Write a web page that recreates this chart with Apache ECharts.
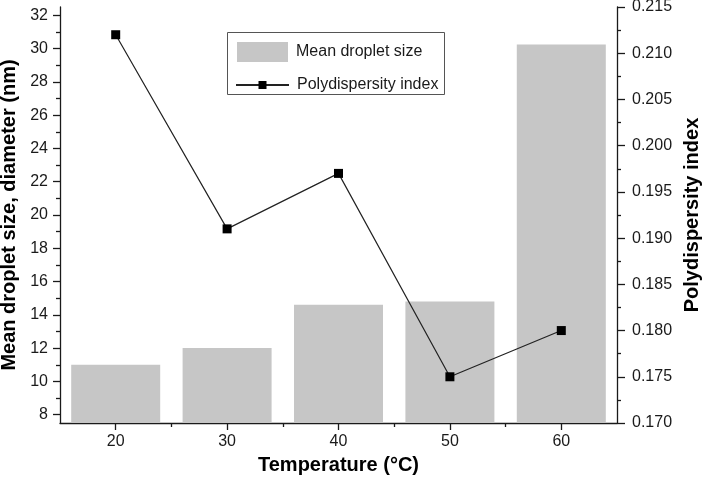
<!DOCTYPE html>
<html>
<head>
<meta charset="utf-8">
<script src="https://cdn.jsdelivr.net/npm/echarts@6/dist/echarts.min.js"></script>
<style>
html,body{margin:0;padding:0;background:#fff;}
#chart{width:706px;height:481px;}
</style>
</head>
<body>
<div id="chart"></div>
<script>
// ---- data ----
const temperatures = [20, 30, 40, 50, 60];
const dropletSize = [11.0, 12.0, 14.6, 14.8, 30.25];
const pdi = [0.212, 0.191, 0.197, 0.175, 0.180];
const xMajorTicks = [20, 30, 40, 50, 60];
const xMinorTicks = [25, 35, 45, 55];
const leftMajorTicks = [8, 10, 12, 14, 16, 18, 20, 22, 24, 26, 28, 30, 32];
const leftMinorTicks = [9, 11, 13, 15, 17, 19, 21, 23, 25, 27, 29, 31];
const seriesNames = ['Mean droplet size', 'Polydispersity index'];
const axisTitles = {
  x: 'Temperature (°C)',
  left: 'Mean droplet size, diameter (nm)',
  right: 'Polydispersity index'
};

const FONT = 'Liberation Sans, Arial, sans-serif';
const chart = echarts.init(document.getElementById('chart'), null, {renderer: 'canvas'});

const axisLineStyle = {color: '#1a1a1a', width: 1.3};
const labelStyle = {color: '#1a1a1a', fontSize: 16, fontFamily: FONT};
const titleStyle = {color: '#000', fontSize: 20, fontWeight: 'bold', fontFamily: FONT};

const option = {
  animation: false,
  backgroundColor: '#fff',
  grid: {left: 60, right: 89, top: 7, bottom: 58, containLabel: false, outerBoundsMode: 'none'},
  legend: [
    {
      data: [{name: seriesNames[0], icon: 'rect'}],
      left: 237, top: 42, padding: 0,
      itemWidth: 51, itemHeight: 20,
      textStyle: {color: '#1a1a1a', fontSize: 16, fontFamily: FONT, padding: [0, 0, 0, 3]},
      itemGap: 8
    },
    {
      data: [{name: seriesNames[1]}],
      left: 235, top: 77, padding: 0,
      itemWidth: 53, itemHeight: 10,
      textStyle: {color: '#1a1a1a', fontSize: 16, fontFamily: FONT, padding: [0, 0, 0, 3]},
      itemGap: 8
    }
  ],
  graphic: [{
    type: 'rect',
    shape: {x: 227.5, y: 32.5, width: 217, height: 62},
    style: {fill: 'none', stroke: '#555', lineWidth: 1},
    z: 100
  }],
  xAxis: [
    {
      type: 'value', position: 'bottom', min: 15, max: 65,
      name: axisTitles.x, nameLocation: 'middle', nameGap: 32,
      nameTextStyle: titleStyle,
      axisLine: {show: true, lineStyle: axisLineStyle},
      axisTick: {show: true, inside: false, length: 7, customValues: xMajorTicks, lineStyle: axisLineStyle},
      axisLabel: {show: true, margin: 11, customValues: xMajorTicks, ...labelStyle},
      splitLine: {show: false}
    },
    {
      type: 'value', position: 'bottom', min: 15, max: 65,
      axisLine: {show: false},
      axisTick: {show: true, inside: false, length: 4, customValues: xMinorTicks, lineStyle: axisLineStyle},
      axisLabel: {show: false},
      splitLine: {show: false}
    }
  ],
  yAxis: [
    {
      type: 'value', position: 'left', min: 7.5, max: 32.5,
      name: axisTitles.left, nameLocation: 'middle', nameGap: 30,
      nameTextStyle: titleStyle,
      axisLine: {show: true, lineStyle: axisLineStyle},
      axisTick: {show: true, inside: false, length: 7, customValues: leftMajorTicks, lineStyle: axisLineStyle},
      axisLabel: {show: true, margin: 12, customValues: leftMajorTicks, ...labelStyle},
      splitLine: {show: false}
    },
    {
      type: 'value', position: 'left', min: 7.5, max: 32.5,
      axisLine: {show: false},
      axisTick: {show: true, inside: false, length: 4, customValues: leftMinorTicks, lineStyle: axisLineStyle},
      axisLabel: {show: false},
      splitLine: {show: false}
    },
    {
      type: 'value', position: 'right', min: 0.170, max: 0.215, interval: 0.005,
      name: axisTitles.right, nameLocation: 'middle', nameGap: 63,
      nameTextStyle: titleStyle,
      axisLine: {show: true, lineStyle: axisLineStyle},
      axisTick: {show: true, inside: false, length: 8, lineStyle: axisLineStyle},
      minorTick: {show: true, splitNumber: 2, length: 4, lineStyle: axisLineStyle},
      axisLabel: {show: true, margin: 15, formatter: v => v.toFixed(3), ...labelStyle},
      splitLine: {show: false}
    }
  ],
  series: [
    {
      name: seriesNames[0],
      type: 'bar',
      xAxisIndex: 0, yAxisIndex: 0,
      barWidth: 89,
      itemStyle: {color: '#c6c6c6'},
      data: temperatures.map((t, i) => [t, dropletSize[i]]),
      z: 1
    },
    {
      name: seriesNames[1],
      type: 'line',
      xAxisIndex: 0, yAxisIndex: 2,
      symbol: 'rect', symbolSize: 9,
      itemStyle: {color: '#000'},
      lineStyle: {color: '#222', width: 1.2},
      data: temperatures.map((t, i) => [t, pdi[i]]),
      z: 3
    }
  ]
};
chart.setOption(option);
</script>
</body>
</html>
